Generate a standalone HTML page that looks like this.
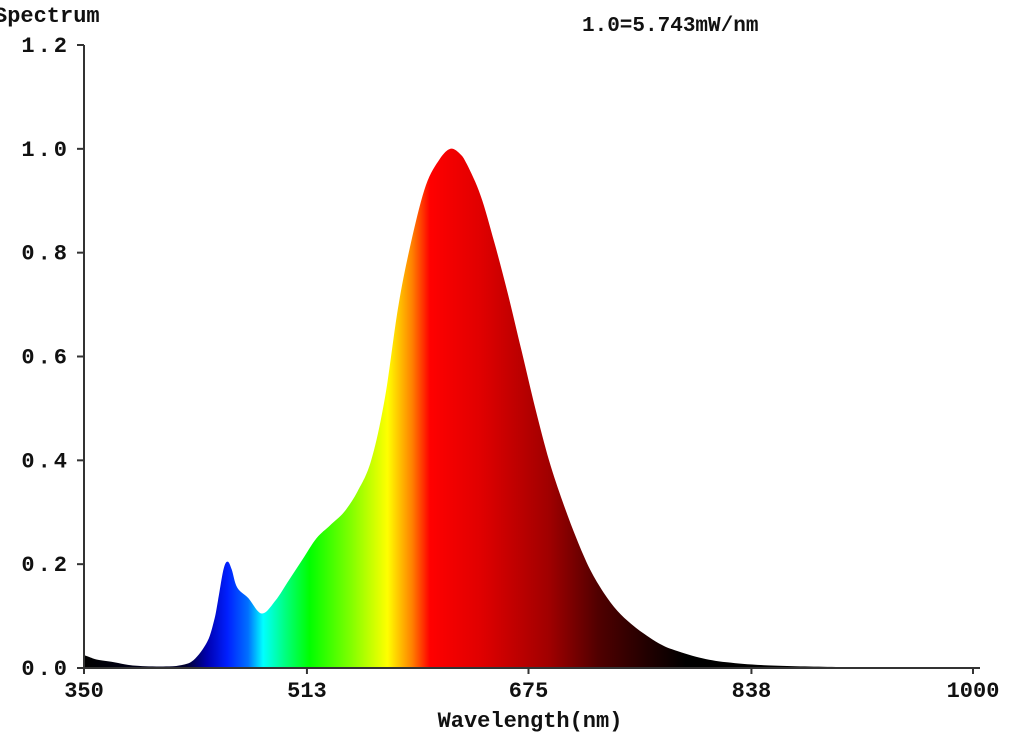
<!DOCTYPE html>
<html><head><meta charset="utf-8"><style>
body{margin:0;background:#fff}
svg text{font-family:"Liberation Mono","DejaVu Sans Mono",monospace;font-weight:bold;fill:#111}
</style></head><body>
<svg width="1024" height="737" viewBox="0 0 1024 737" xmlns="http://www.w3.org/2000/svg">
<defs>
<linearGradient id="spec" gradientUnits="userSpaceOnUse" x1="84" y1="0" x2="973" y2="0"></linearGradient>
</defs>
<text x="-6" y="22" font-size="22">Spectrum</text>
<text x="582" y="31" font-size="21">1.0=5.743mW/nm</text>
<g id="plot"></g>
<g id="axes"></g>
<text x="530" y="727" font-size="22" text-anchor="middle">Wavelength(nm)</text>
</svg>
<script>
const wavelengths=[350,355,360,370,380,390,400,410,420,430,440,445,448,452,455,458,462,470,480,490,500,510,520,530,540,550,560,570,580,590,600,610,618,625,630,640,650,660,670,680,690,700,710,720,730,740,750,760,770,780,800,820,850,900,950,1000];
const intensities=[0.025,0.02,0.016,0.012,0.007,0.004,0.003,0.003,0.005,0.015,0.05,0.09,0.13,0.19,0.205,0.19,0.155,0.135,0.105,0.13,0.17,0.21,0.25,0.275,0.3,0.34,0.4,0.52,0.7,0.83,0.93,0.98,1.0,0.99,0.97,0.91,0.82,0.72,0.61,0.5,0.4,0.32,0.25,0.19,0.145,0.11,0.085,0.065,0.048,0.036,0.02,0.011,0.005,0.002,0.001,0.0];
const xTicks=[350,513,675,838,1000];
const yTicks=[0,0.2,0.4,0.6,0.8,1.0,1.2];
const colorStops=[[350,'#000000'],[425,'#000030'],[440,'#0000b0'],[455,'#0020ff'],[470,'#0070ff'],[481,'#00ffff'],[497,'#00ff80'],[515,'#00ff00'],[545,'#80ff00'],[572,'#ffff00'],[590,'#ff8000'],[603,'#ff0000'],[640,'#e00000'],[690,'#a00000'],[726,'#500000'],[763,'#200000'],[790,'#000000'],[1000,'#000000']];
const NS='http://www.w3.org/2000/svg';
const X=v=>84+(v-350)*(973-84)/650;
const Y=v=>668-v*(668-45)/1.2;
const grad=document.getElementById('spec');
colorStops.forEach(s=>{const st=document.createElementNS(NS,'stop');st.setAttribute('offset',((s[0]-350)/650).toFixed(4));st.setAttribute('stop-color',s[1]);grad.appendChild(st);});
const plot=document.getElementById('plot');
const pts=wavelengths.map((w,i)=>[X(w),Y(intensities[i])]);
let d='M'+X(wavelengths[0])+','+Y(0)+' L'+pts[0][0].toFixed(1)+','+pts[0][1].toFixed(1);
for(let i=0;i<pts.length-1;i++){
  const p0=pts[Math.max(0,i-1)],p1=pts[i],p2=pts[i+1],p3=pts[Math.min(pts.length-1,i+2)];
  const c1x=p1[0]+(p2[0]-p0[0])/6,c1y=p1[1]+(p2[1]-p0[1])/6;
  const c2x=p2[0]-(p3[0]-p1[0])/6,c2y=p2[1]-(p3[1]-p1[1])/6;
  d+=' C'+c1x.toFixed(1)+','+Math.min(668,c1y).toFixed(1)+' '+c2x.toFixed(1)+','+Math.min(668,c2y).toFixed(1)+' '+p2[0].toFixed(1)+','+p2[1].toFixed(1);
}
d+=' L'+X(wavelengths[wavelengths.length-1])+','+Y(0)+' Z';
const area=document.createElementNS(NS,'path');
area.setAttribute('d',d);area.setAttribute('fill','url(#spec)');


plot.appendChild(area);
const axes=document.getElementById('axes');
function line(x1,y1,x2,y2,name){const l=document.createElementNS(NS,'line');l.setAttribute('x1',x1);l.setAttribute('y1',y1);l.setAttribute('x2',x2);l.setAttribute('y2',y2);l.setAttribute('stroke','#333');l.setAttribute('stroke-width','2');


axes.appendChild(l);}
function text(x,y,s,anchor,name,ls){const t=document.createElementNS(NS,'text');t.setAttribute('x',x);t.setAttribute('y',y);t.setAttribute('font-size','22');t.setAttribute('text-anchor',anchor);if(ls)t.setAttribute('letter-spacing',ls);t.textContent=s;


axes.appendChild(t);}
line(84,45,84,669,'y-axis-line');
line(83,668,980,668,'x-axis-line');
yTicks.forEach(v=>{line(77,Y(v),84,Y(v),'y-tick');text(70,Y(v)+7,v.toFixed(1),'end','y-tick-label','3');});
xTicks.forEach(v=>{line(X(v),668,X(v),674,'x-tick');text(X(v),697,String(v),'middle','x-tick-label');});
</script>
</body></html>
